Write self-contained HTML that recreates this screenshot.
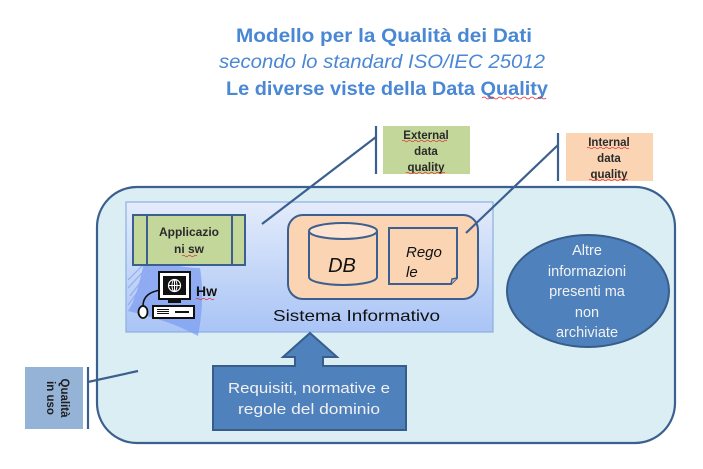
<!DOCTYPE html>
<html><head><meta charset="utf-8"><style>
html,body{margin:0;padding:0;background:#fff;}
svg{display:block;}
</style></head><body>
<svg width="703" height="469" viewBox="0 0 703 469" xmlns="http://www.w3.org/2000/svg">
<defs>
<linearGradient id="sys" x1="0" y1="0" x2="0" y2="1">
<stop offset="0" stop-color="#e4ecfb"/>
<stop offset="1" stop-color="#a9c4f6"/>
</linearGradient>
</defs>
<!-- Title -->
<g font-family="Liberation Sans, sans-serif" fill="#4a87d4">
<text x="236" y="42" font-size="19" font-weight="bold" textLength="296" lengthAdjust="spacingAndGlyphs">Modello per la Qualità dei Dati</text>
<text x="219" y="68" font-size="19" font-style="italic" textLength="326" lengthAdjust="spacingAndGlyphs">secondo lo standard ISO/IEC 25012</text>
<text x="226" y="95" font-size="19" font-weight="bold" textLength="322" lengthAdjust="spacingAndGlyphs">Le diverse viste della Data Quality</text>
</g>
<path d="M482 98 q2 -2 4 0 t4 0 t4 0 t4 0 t4 0 t4 0 t4 0 t4 0 t4 0 t4 0 t4 0 t4 0 t4 0 t4 0 t4 0 t4 0" stroke="#e03030" stroke-width="0.8" fill="none"/>

<!-- Outer rounded rect -->
<rect x="97" y="187" width="578" height="256" rx="40" ry="40" fill="#dbeef4" stroke="#3b5f8e" stroke-width="2.2"/>

<!-- Sistema informativo box -->
<rect x="126" y="202" width="367" height="130" fill="url(#sys)" stroke="#8eaee2" stroke-width="1.2"/>

<!-- Swoosh -->
<path d="M146 256 C165 264 185 268 200 268 C204 292 202 316 198 336 C180 326 158 318 128 311 C138 296 140 276 146 256 Z" fill="#7f9ff2" opacity="0.75"/>
<g stroke="#8fa8f0" stroke-width="1.2" fill="none" opacity="0.9">
<path d="M150 258 L128 280"/><path d="M152 262 L128 288"/><path d="M150 270 L130 296"/><path d="M148 278 L128 305"/><path d="M146 287 L133 310"/>
</g>

<!-- Applicazioni sw -->
<rect x="133" y="215" width="112" height="50" fill="#c4d79b" stroke="#3b5f8e" stroke-width="2"/>
<line x1="147" y1="215" x2="147" y2="265" stroke="#3b5f8e" stroke-width="2"/>
<line x1="232" y1="215" x2="232" y2="265" stroke="#3b5f8e" stroke-width="2"/>
<g font-family="Liberation Sans, sans-serif" font-size="12" font-weight="bold" fill="#2a2a2a" text-anchor="middle">
<text x="189" y="236">Applicazio</text>
<text x="189" y="253">ni sw</text>
</g>
<path d="M182 256 q1.5 -1.5 3 0 t3 0 t3 0 t3 0 t3 0" stroke="#e03030" stroke-width="0.7" fill="none"/>

<!-- Hw icon -->
<rect x="159" y="272" width="31" height="27" fill="#fff" stroke="#111" stroke-width="2"/>
<rect x="163" y="276" width="23" height="19" fill="#111"/>
<circle cx="174.5" cy="285.5" r="6" fill="none" stroke="#fff" stroke-width="1.2"/>
<line x1="168.5" y1="285.5" x2="180.5" y2="285.5" stroke="#fff" stroke-width="1"/>
<line x1="174.5" y1="279.5" x2="174.5" y2="291.5" stroke="#fff" stroke-width="1"/>
<ellipse cx="174.5" cy="285.5" rx="2.5" ry="6" fill="none" stroke="#fff" stroke-width="1"/>
<rect x="168" y="299" width="13" height="4" fill="#111"/>
<rect x="153" y="306" width="41" height="12" fill="#fff" stroke="#111" stroke-width="2"/>
<line x1="175" y1="312" x2="189" y2="312" stroke="#111" stroke-width="2"/>
<g fill="#111"><rect x="157" y="309" width="12" height="1"/><rect x="157" y="311" width="12" height="1"/><rect x="157" y="313" width="12" height="1"/></g>
<ellipse cx="143" cy="312" rx="4.5" ry="6" fill="#fff" stroke="#111" stroke-width="1.8"/>
<path d="M143 306 C143 296 150 292 160 290" stroke="#111" stroke-width="1.6" fill="none"/>
<text x="196" y="296" font-family="Liberation Sans, sans-serif" font-size="14" font-weight="bold" fill="#111">Hw</text>
<path d="M196 299 q1.5 -1.5 3 0 t3 0 t3 0 t3 0 t3 0 t3 0" stroke="#e03030" stroke-width="0.7" fill="none"/>

<!-- Orange container -->
<rect x="288" y="215" width="190" height="84" rx="15" ry="15" fill="#fbd4b4" stroke="#3b5f8e" stroke-width="2"/>
<!-- DB cylinder -->
<path d="M309 231 L309 277 A34 8 0 0 0 377 277 L377 231" fill="#fbd4b4" stroke="#3b5f8e" stroke-width="2"/>
<ellipse cx="343" cy="231" rx="34" ry="8" fill="#fde3d0" stroke="#3b5f8e" stroke-width="2"/>
<text x="342" y="272" font-family="Liberation Sans, sans-serif" font-size="20" font-style="italic" fill="#111" text-anchor="middle">DB</text>
<!-- Regole document -->
<path d="M389 228 L457 228 L457 278 L451 284 L389 284 Z" fill="#fbd4b4" stroke="#3b5f8e" stroke-width="2"/>
<path d="M451 284 L452 279 L457 278" fill="#e8b99a" stroke="#3b5f8e" stroke-width="1.5"/>
<g font-family="Liberation Sans, sans-serif" font-size="15" font-style="italic" fill="#111">
<text x="406" y="257">Rego</text>
<text x="406" y="277">le</text>
</g>
<text x="273" y="321" font-family="Liberation Sans, sans-serif" font-size="16" fill="#111" textLength="167" lengthAdjust="spacingAndGlyphs">Sistema Informativo</text>

<!-- External data quality -->
<line x1="262" y1="224" x2="376" y2="137" stroke="#3b5f8e" stroke-width="2.2"/>
<line x1="376" y1="126" x2="376" y2="174" stroke="#3b5f8e" stroke-width="2.2"/>
<rect x="383" y="126" width="87" height="48" fill="#c4d79b"/>
<g font-family="Liberation Sans, sans-serif" font-size="11.5" font-weight="bold" fill="#2a2a2a" text-anchor="middle">
<text x="426" y="139">External</text>
<text x="426" y="155">data</text>
<text x="426" y="171">quality</text>
</g>
<path d="M402 141 q1.5 -1.5 3 0 t3 0 t3 0 t3 0 t3 0 t3 0 t3 0 t3 0 t3 0 t3 0 t3 0 t3 0 t3 0 t3 0 t3 0" stroke="#e03030" stroke-width="0.7" fill="none"/>
<path d="M406 173 q1.5 -1.5 3 0 t3 0 t3 0 t3 0 t3 0 t3 0 t3 0 t3 0 t3 0 t3 0 t3 0 t3 0 t3 0" stroke="#e03030" stroke-width="0.7" fill="none"/>

<!-- Internal data quality -->
<line x1="466" y1="233" x2="558" y2="145" stroke="#3b5f8e" stroke-width="2.2"/>
<line x1="558" y1="133" x2="558" y2="181" stroke="#3b5f8e" stroke-width="2.2"/>
<rect x="566" y="133" width="87" height="48" fill="#fbd4b4"/>
<g font-family="Liberation Sans, sans-serif" font-size="11.5" font-weight="bold" fill="#2a2a2a" text-anchor="middle">
<text x="609" y="146">Internal</text>
<text x="609" y="162">data</text>
<text x="609" y="178">quality</text>
</g>
<path d="M587 148 q1.5 -1.5 3 0 t3 0 t3 0 t3 0 t3 0 t3 0 t3 0 t3 0 t3 0 t3 0 t3 0 t3 0 t3 0 t3 0" stroke="#e03030" stroke-width="0.7" fill="none"/>
<path d="M589 180 q1.5 -1.5 3 0 t3 0 t3 0 t3 0 t3 0 t3 0 t3 0 t3 0 t3 0 t3 0 t3 0 t3 0 t3 0" stroke="#e03030" stroke-width="0.7" fill="none"/>

<!-- Ellipse -->
<ellipse cx="588" cy="291" rx="81" ry="56" fill="#4f81bd" stroke="#385d8a" stroke-width="2"/>
<g font-family="Liberation Sans, sans-serif" font-size="14.5" fill="#f2f2f2" text-anchor="middle">
<text x="587" y="255">Altre</text>
<text x="587" y="276">informazioni</text>
<text x="587" y="296">presenti ma</text>
<text x="587" y="317">non</text>
<text x="587" y="337">archiviate</text>
</g>

<!-- Arrow -->
<path d="M310 333 L337 357 L323 357 L323 366 L406 366 L406 430 L213 430 L213 366 L295 366 L295 357 L283 357 Z" fill="#4f81bd" stroke="#385d8a" stroke-width="2" stroke-linejoin="miter"/>
<g font-family="Liberation Sans, sans-serif" font-size="15" fill="#f2f2f2" text-anchor="middle">
<text x="309" y="393" textLength="162" lengthAdjust="spacingAndGlyphs">Requisiti, normative e</text>
<text x="309" y="414" textLength="142" lengthAdjust="spacingAndGlyphs">regole del dominio</text>
</g>

<!-- Qualità in uso -->
<line x1="88" y1="382" x2="138" y2="371" stroke="#3b5f8e" stroke-width="2.2"/>
<line x1="88" y1="367" x2="88" y2="429" stroke="#3b5f8e" stroke-width="2.2"/>
<rect x="25" y="367" width="58" height="62" fill="#95b3d7"/>
<g font-family="Liberation Sans, sans-serif" font-size="11.5" font-weight="bold" fill="#1e1e1e" text-anchor="middle">
<text transform="translate(61,398) rotate(90)">Qualità</text>
<text transform="translate(47,398) rotate(90)">in uso</text>
</g>
</svg>
</body></html>
